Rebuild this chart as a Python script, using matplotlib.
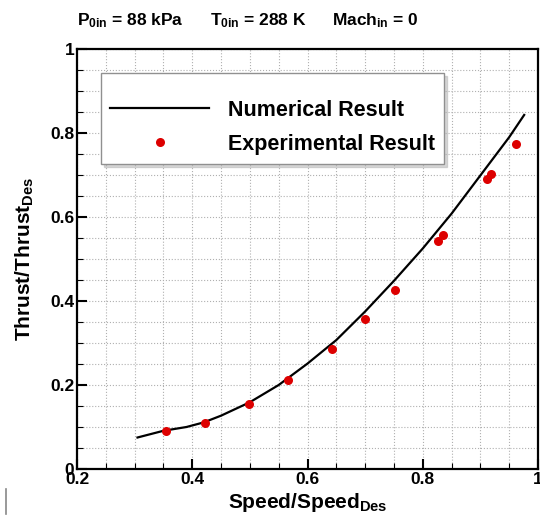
import matplotlib
matplotlib.use('Agg')
import matplotlib.pyplot as plt
from matplotlib.lines import Line2D
from matplotlib.ticker import MultipleLocator

plt.rcParams['font.family'] = 'Liberation Sans'
plt.rcParams['font.weight'] = 'bold'
plt.rcParams['axes.labelweight'] = 'bold'
plt.rcParams['mathtext.fontset'] = 'custom'
plt.rcParams['mathtext.rm'] = 'Liberation Sans:bold'
plt.rcParams['mathtext.it'] = 'Liberation Sans:bold'
plt.rcParams['mathtext.bf'] = 'Liberation Sans:bold'
plt.rcParams['mathtext.default'] = 'rm'

# curva numerica
vel_num = [0.305, 0.35, 0.39, 0.42, 0.45, 0.50, 0.55, 0.60, 0.65, 0.70,
           0.75, 0.80, 0.85, 0.90, 0.95, 0.976]
empuxo_num = [0.075, 0.091, 0.100, 0.111, 0.127, 0.159, 0.200, 0.251, 0.307, 0.375,
              0.448, 0.525, 0.608, 0.699, 0.790, 0.843]

# pontos experimentais
vel_exp = [0.355, 0.422, 0.498, 0.566, 0.642, 0.700, 0.751, 0.826, 0.836,
           0.911, 0.918, 0.961]
empuxo_exp = [0.090, 0.110, 0.154, 0.211, 0.286, 0.357, 0.426, 0.543, 0.557,
              0.690, 0.703, 0.773]

xticks = [0.2, 0.4, 0.6, 0.8, 1.0]
xtick_labels = ['0.2', '0.4', '0.6', '0.8', '1']
yticks = [0, 0.2, 0.4, 0.6, 0.8, 1.0]
ytick_labels = ['0', '0.2', '0.4', '0.6', '0.8', '1']

fig = plt.figure(figsize=(5.4, 5.21), dpi=100)
ax = fig.add_axes([77 / 540, 1 - 469 / 521, 461 / 540, 420 / 521])

ax.plot(vel_num, empuxo_num, color='black', lw=1.6, label='Numerical Result')
ax.plot(vel_exp, empuxo_exp, 'o', color='#dd0000', ms=6.5, mec='none',
        label='Experimental Result')

ax.set_xlim(0.2, 1.0)
ax.set_ylim(0, 1.0)
ax.set_xticks(xticks, xtick_labels)
ax.set_yticks(yticks, ytick_labels)
ax.xaxis.set_minor_locator(MultipleLocator(0.05))
ax.yaxis.set_minor_locator(MultipleLocator(0.05))
ax.tick_params(which='major', direction='in', length=7, width=1.5, labelsize=12.5, pad=2)
ax.tick_params(which='minor', direction='in', length=4, width=0.8)
ax.grid(which='both', linestyle=':', color='#b0b0b0', linewidth=0.8)
ax.set_axisbelow(True)
for s in ax.spines.values():
    s.set_linewidth(1.6)

ax.set_xlabel(r'Speed/Speed$_{Des}$', fontsize=15, labelpad=3)
ax.set_ylabel(r'Thrust/Thrust$_{Des}$', fontsize=15, labelpad=10)

leg = ax.legend(loc='upper left', bbox_to_anchor=(0.052, 0.943), borderaxespad=0,
                fontsize=15.5, handlelength=4.6, handletextpad=0.88, borderpad=0.42,
                labelspacing=0.6, frameon=True, fancybox=False,
                shadow={'color': '#b0b0b0', 'ox': 2.5, 'oy': -2.5},
                title=' ', title_fontsize=4)
leg.get_frame().set_edgecolor('#909090')
leg.get_frame().set_linewidth(1.0)

fig.text(77 / 540, 0.96, r'P$_{0in}$ = 88 kPa', fontsize=12.5, va='center')
fig.text(210 / 540, 0.96, r'T$_{0in}$ = 288 K', fontsize=12.5, va='center')
fig.text(332 / 540, 0.96, r'Mach$_{in}$ = 0', fontsize=12.5, va='center')

# marca cinza no canto inferior esquerdo
fig.add_artist(Line2D([6 / 540, 6 / 540], [1 - 514 / 521, 1 - 489 / 521],
                      color='#888888', lw=1.2))

fig.savefig('out.png', dpi=100)
